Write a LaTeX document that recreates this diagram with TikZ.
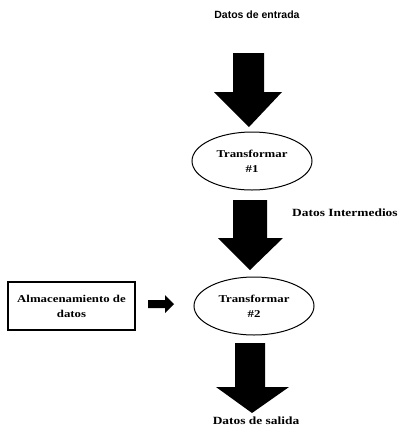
\documentclass[tikz,border=0pt]{standalone}
\usepackage{fontspec}
\usetikzlibrary{shapes.geometric}
\setmainfont{Liberation Serif}
\newfontfamily\tnr[FakeStretch=1.22]{Liberation Serif}
\newfontfamily\arl{Liberation Sans}
\begin{document}
\begin{tikzpicture}[x=1pt,y=-1pt,
  lbl/.style={font=\tnr\bfseries\fontsize{11}{13}\selectfont, inner sep=0pt},
  toplbl/.style={font=\arl\bfseries\fontsize{10.5}{12}\selectfont, inner sep=0pt},
  proc/.style={draw, line width=1pt, ellipse, minimum width=120pt, minimum height=58pt, align=center,
     font=\tnr\bfseries\fontsize{10.5}{15}\selectfont, inner sep=0pt},
  store/.style={draw, line width=1.2pt, rectangle, minimum width=127pt, minimum height=48pt, align=center,
     font=\tnr\bfseries\fontsize{10.5}{15}\selectfont, inner sep=0pt},
  blockarrow/.style={fill=black}]
\useasboundingbox (0,0) rectangle (400,426);
% labels
\node[toplbl] (in) at (257,15) {Datos de entrada};
\node[lbl, anchor=west] (mid) at (292,213) {Datos Intermedios};
\node[lbl] (out) at (256,421) {Datos de salida};
% processes
\node[proc] (t1) at (252,161) {Transformar\\\#1};
\node[proc] (t2) at (254,306) {Transformar\\\#2};
\node[store] (db) at (71.5,306) {Almacenamiento de\\datos};
% block arrows
\fill[blockarrow] (233,53) -- (264,53) -- (264,92) -- (282,92) -- (249,127) -- (214,92) -- (233,92) -- cycle;
\fill[blockarrow] (233,200) -- (267,200) -- (267,238) -- (283,238) -- (250,270) -- (218,238) -- (233,238) -- cycle;
\fill[blockarrow] (235,343) -- (265,343) -- (265,387) -- (289,387) -- (252,413) -- (216,387) -- (235,387) -- cycle;
\fill[blockarrow] (148,300) -- (165,300) -- (165,295) -- (174,304) -- (165,313) -- (165,308) -- (148,308) -- cycle;
\end{tikzpicture}
\end{document}
